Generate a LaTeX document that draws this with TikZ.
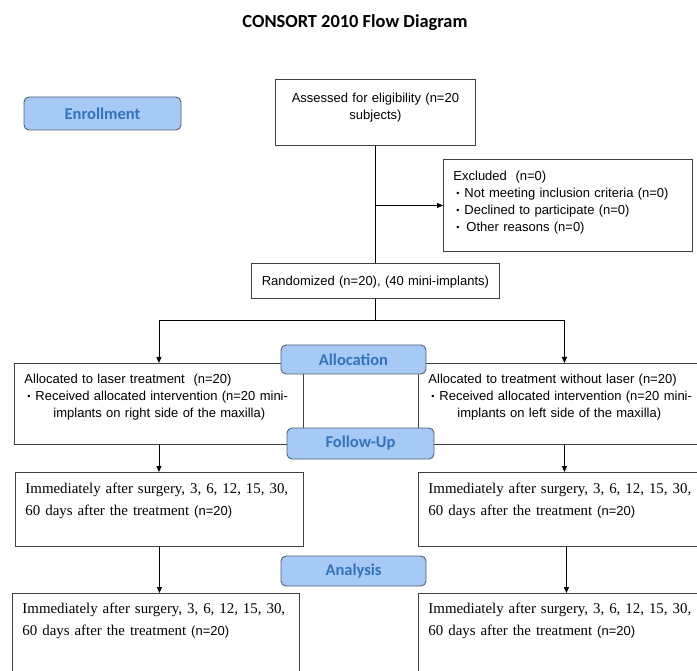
\documentclass[tikz,border=0pt]{standalone}
\usepackage{fontspec}
\setmainfont{Liberation Sans}
\newfontfamily\timesfont{Liberation Serif}
\newfontfamily\calfont{Carlito}
\usetikzlibrary{arrows.meta}
\definecolor{stagefill}{RGB}{166,201,246}
\definecolor{stagetext}{RGB}{52,114,186}
\definecolor{stageline}{RGB}{84,94,112}
\newcommand{\bul}{\hspace*{3pt}\makebox[8pt][l]{\fontsize{9}{9}\selectfont\raisebox{0.5pt}{\textbullet}}}
\newcommand{\smallsans}{\normalfont\fontsize{13}{22}\selectfont}

\begin{document}
\begin{tikzpicture}[x=1pt,y=-1pt,>={Triangle[length=6pt,width=5pt]},
    box/.style={draw=black!75,line width=0.9pt,anchor=north west,inner ysep=0pt,inner xsep=10pt,
                align=left,font=\fontsize{13}{17}\selectfont},
    serif box/.style={box,font=\timesfont\fontsize{14.9}{22}\selectfont},
    stage/.style={draw=stageline,line width=0.9pt,fill=stagefill,rounded corners=5pt,inner sep=0pt,
                  text=stagetext,font=\calfont\bfseries\fontsize{16.5}{18}\selectfont}]

  \useasboundingbox (0,0) rectangle (697,671);
  \clip (0,0) rectangle (697,671);

  \node[font=\calfont\bfseries\fontsize{18.4}{20}\selectfont,anchor=base] (title) at (355,28) {CONSORT 2010 Flow Diagram};

  % Enrollment
  \node[box,align=center,text width=180pt,text height=23pt,text depth=43pt] (assess) at (275,79)
    {Assessed for eligibility (n=20\\ subjects)};
  \node[box,text width=229pt,text height=21pt,text depth=71pt] (excl) at (443,159)
    {Excluded\ \ (n=0)\\
     \bul Not meeting inclusion criteria (n=0)\\
     \bul Declined to participate (n=0)\\
     \bul\hspace*{2pt}Other reasons (n=0)};
  \node[box,align=center,inner xsep=4pt,text width=240pt,text height=22pt,text depth=13pt] (rand) at (251,263)
    {Randomized (n=20), (40 mini-implants)};

  % Allocation
  \node[box,text width=269pt,text height=20pt,text depth=61pt] (allocL) at (14,363)
    {Allocated to laser treatment\ \ (n=20)\\
     \bul Received allocated intervention (n=20 mini-\\
     \hspace*{29pt}implants on right side of the maxilla)};
  \node[box,text width=272pt,text height=20pt,text depth=61pt] (allocR) at (418,363)
    {Allocated to treatment without laser (n=20)\\
     \bul Received allocated intervention (n=20 mini-\\
     \hspace*{29pt}implants on left side of the maxilla)};

  % Follow-up and analysis
  \node[serif box,text width=268pt,text height=21pt,text depth=53pt] (fupL) at (15,472)
    {Immediately after surgery, 3, 6, 12, 15, 30,\\ 60 days after the treatment {\smallsans(n=20)}};
  \node[serif box,text width=276pt,text height=21pt,text depth=53pt] (fupR) at (418,472)
    {Immediately after surgery, 3, 6, 12, 15, 30,\\ 60 days after the treatment {\smallsans(n=20)}};
  \node[serif box,text width=267pt,text height=20pt,text depth=70pt] (anaL) at (12,593)
    {Immediately after surgery, 3, 6, 12, 15, 30,\\ 60 days after the treatment {\smallsans(n=20)}};
  \node[serif box,text width=276pt,text height=20pt,text depth=70pt] (anaR) at (418,593)
    {Immediately after surgery, 3, 6, 12, 15, 30,\\ 60 days after the treatment {\smallsans(n=20)}};

  % Connectors
  \coordinate (split) at (rand.south |- 0,320);
  \draw[line width=0.9pt] (assess.south) -- (assess.south |- rand.north);
  \draw[->,line width=0.9pt] (assess.south |- excl.west) -- (excl.west);
  \draw[line width=0.9pt] (rand.south) -- (split);
  \draw[->,line width=0.9pt] (split) -| (allocL.north);
  \draw[->,line width=0.9pt] (split) -| (allocR.north);
  \draw[->,line width=0.9pt] (allocL.south) -- (allocL.south |- fupL.north);
  \draw[->,line width=0.9pt] (allocR.south) -- (allocR.south |- fupR.north);
  \draw[->,line width=0.9pt] (fupL.south) -- (fupL.south |- anaL.north);
  \draw[->,line width=0.9pt] (fupR.south) -- (fupR.south |- anaR.north);

  % Stage labels
  \foreach \name/\place/\w/\h/\txt in {enroll/{(102.5,113.5)}/157/33/Enrollment,
                                       alloc/{(353.5,359.5)}/145/29/Allocation,
                                       follow/{(360.5,443.5)}/147/31/Follow-Up,
                                       analysis/{(353.5,571)}/145/30/Analysis}
    \node[stage,minimum width=\w pt,minimum height=\h pt] (\name) at \place {\txt};
\end{tikzpicture}
\end{document}
